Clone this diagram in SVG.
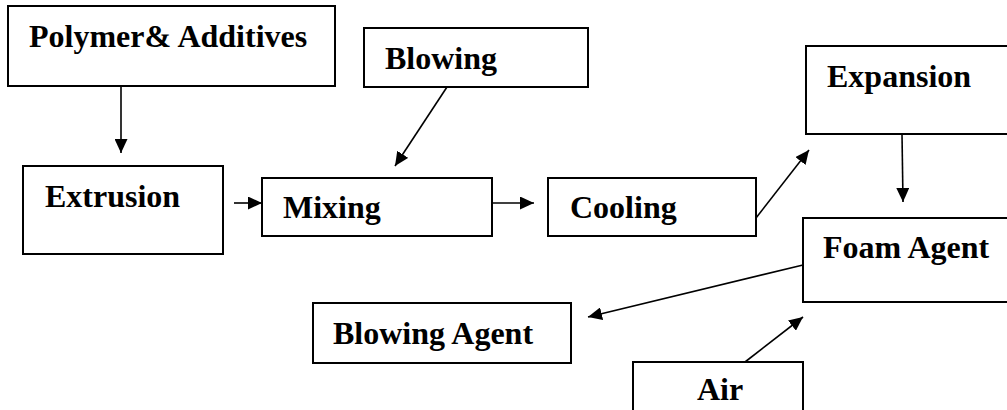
<svg xmlns="http://www.w3.org/2000/svg" width="1007" height="410" viewBox="0 0 1007 410">
<style>
.box{fill:#fff;stroke:#000;stroke-width:2}
.lbl{font-family:"Liberation Serif","Times New Roman",serif;font-weight:bold;font-size:32px;fill:#000}
.con{stroke:#000;stroke-width:1.6;fill:none;marker-end:url(#ah)}
</style>
<defs>
<marker id="ah" viewBox="0 0 14 13" refX="14" refY="6.5" markerWidth="14" markerHeight="13" markerUnits="userSpaceOnUse" orient="auto">
<path d="M0,0 L14,6.5 L0,13 Z" fill="#000"/>
</marker>
</defs>
<rect width="1007" height="410" fill="#fff"/>
<g id="polymer"><rect class="box" x="8" y="6" width="327" height="80"/><text class="lbl" x="29" y="47">Polymer&amp; Additives</text></g>
<g id="blowing"><rect class="box" x="364" y="28" width="224" height="59"/><text class="lbl" x="385" y="69">Blowing</text></g>
<g id="extrusion"><rect class="box" x="23" y="166" width="200" height="88"/><text class="lbl" x="45" y="207">Extrusion</text></g>
<g id="mixing"><rect class="box" x="262" y="178" width="230" height="58"/><text class="lbl" x="283" y="218">Mixing</text></g>
<g id="cooling"><rect class="box" x="548" y="178" width="208" height="58"/><text class="lbl" x="570" y="218">Cooling</text></g>
<g id="expansion"><rect class="box" x="806" y="46" width="210" height="88"/><text class="lbl" x="827" y="87">Expansion</text></g>
<g id="foam"><rect class="box" x="803" y="218" width="213" height="84"/><text class="lbl" x="823" y="258">Foam Agent</text></g>
<g id="blowingagent"><rect class="box" x="313" y="303" width="258" height="60"/><text class="lbl" x="333" y="344">Blowing Agent</text></g>
<g id="air"><rect class="box" x="633" y="362" width="170" height="60"/><text class="lbl" x="697" y="400">Air</text></g>
<g id="connectors">
<line class="con" x1="121" y1="86" x2="121" y2="153"/>
<line class="con" x1="234" y1="203" x2="262" y2="203"/>
<line class="con" x1="492" y1="203" x2="534" y2="203"/>
<line class="con" x1="447" y1="87" x2="395" y2="166"/>
<line class="con" x1="756" y1="218" x2="809" y2="150"/>
<line class="con" x1="902" y1="134" x2="903" y2="202"/>
<line class="con" x1="803" y1="265" x2="588" y2="317"/>
<line class="con" x1="745" y1="362" x2="803" y2="317"/>
</g>
</svg>
